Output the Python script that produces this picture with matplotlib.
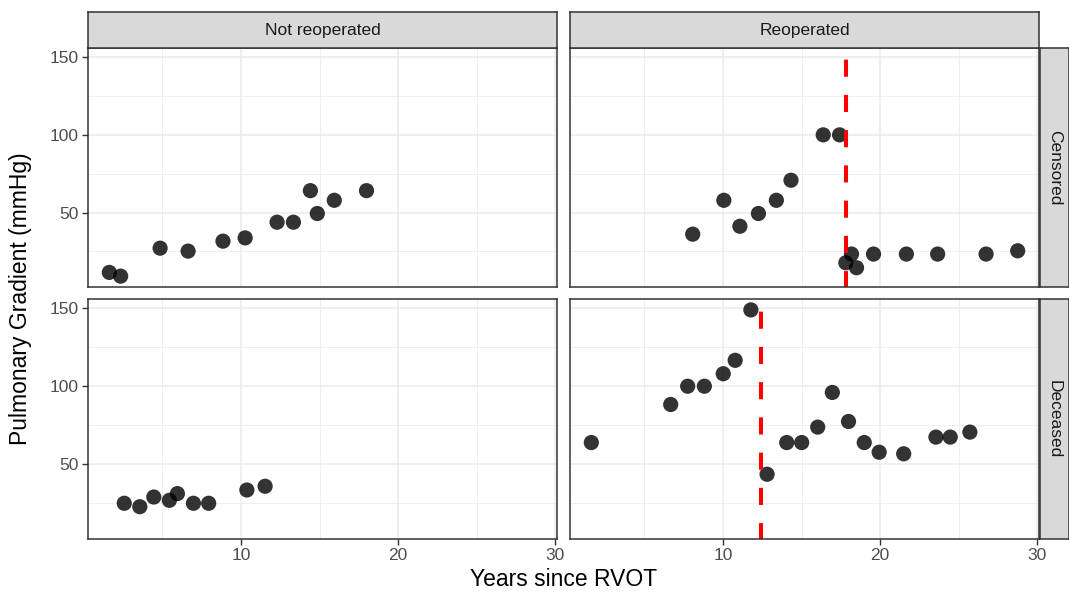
import matplotlib
matplotlib.use("Agg")
import matplotlib.pyplot as plt

plt.rcParams['font.family'] = ['Liberation Sans', 'DejaVu Sans']

W, H = 1069, 595
DPI = 100

col_labels = ["Not reoperated", "Reoperated"]
row_labels = ["Censored", "Deceased"]

# Not reoperated / Censored
nc_x = [1.63, 2.35, 4.86, 6.64, 8.86, 10.27, 12.30, 13.34, 14.42, 14.86, 15.94, 17.99]
nc_y = [11.5, 9.1, 27.1, 25.2, 31.6, 33.7, 43.8, 43.8, 64.1, 49.4, 57.9, 64.1]
# Reoperated / Censored
rc_x = [8.08, 10.06, 11.08, 12.26, 13.40, 14.33, 16.38, 17.42, 18.18, 17.82, 18.50,
        19.58, 21.67, 23.66, 26.74, 28.75]
rc_y = [36.1, 57.9, 41.2, 49.4, 57.9, 70.8, 100.0, 100.0, 23.3, 17.7, 14.5,
        23.3, 23.3, 23.3, 23.3, 25.4]
# Not reoperated / Deceased
nd_x = [2.58, 3.57, 4.46, 5.45, 5.96, 6.98, 7.95, 10.38, 11.54]
nd_y = [25.0, 22.8, 29.0, 26.9, 31.2, 25.0, 25.0, 33.5, 35.9]
# Reoperated / Deceased
rd_x = [1.63, 6.68, 7.76, 8.82, 10.02, 10.78, 11.78, 12.81, 14.06, 15.01, 16.03,
        16.96, 17.99, 18.99, 19.94, 21.50, 23.55, 24.46, 25.71]
rd_y = [63.9, 88.3, 100.0, 100.0, 108.0, 116.6, 148.9, 43.6, 63.9, 63.9, 73.8,
        96.0, 77.4, 63.9, 57.7, 56.7, 67.4, 67.4, 70.6]

# reoperation times (vertical dashed lines)
reop_censored = 17.82
reop_deceased = 12.45

x_major = [10, 20, 30]
x_minor = [5, 15, 25]
y_major = [50, 100, 150]
y_minor = [25, 75, 125]

data = {
    (0, 0): (nc_x, nc_y, None),
    (0, 1): (rc_x, rc_y, reop_censored),
    (1, 0): (nd_x, nd_y, None),
    (1, 1): (rd_x, rd_y, reop_deceased),
}

all_x = nc_x + rc_x + nd_x + rd_x
all_y = nc_y + rc_y + nd_y + rd_y
xr = max(all_x) - min(all_x)
yr = max(all_y) - min(all_y)
xlim = (min(all_x) - 0.05 * xr, max(all_x) + 0.05 * xr)
ylim = (min(all_y) - 0.05 * yr, max(all_y) + 0.05 * yr)

fig = plt.figure(figsize=(W / DPI, H / DPI), dpi=DPI)

def fx(px):
    return px / W

def fy(py):
    return 1 - py / H

col_x = [(88, 557), (570, 1039)]
row_y = [(48, 287), (299, 539)]
border = '#333333'
grid_c = '#EBEBEB'

for (r, c), (xs, ys, vl) in data.items():
    x0, x1 = col_x[c]
    y0, y1 = row_y[r]
    ax = fig.add_axes([fx(x0), fy(y1), fx(x1) - fx(x0), fy(y0) - fy(y1)])
    ax.set_xlim(xlim)
    ax.set_ylim(ylim)
    ax.set_facecolor('white')
    for v in x_minor:
        ax.axvline(v, color=grid_c, lw=0.55, zorder=0)
    for v in y_minor:
        ax.axhline(v, color=grid_c, lw=0.55, zorder=0)
    for v in x_major:
        ax.axvline(v, color=grid_c, lw=1.1, zorder=0)
    for v in y_major:
        ax.axhline(v, color=grid_c, lw=1.1, zorder=0)
    ax.scatter(xs, ys, s=120, color='black', alpha=0.8, edgecolors='none', zorder=3)
    if vl is not None:
        ax.axvline(vl, color='red', lw=2.9, linestyle=(0.3, (4.25, 4.5)), zorder=4)
    for sp in ax.spines.values():
        sp.set_color(border)
        sp.set_linewidth(1.1)
        sp.set_zorder(5)
    ax.set_xticks(x_major)
    ax.set_yticks(y_major)
    ax.tick_params(axis='both', colors=border, length=4.5, width=1.0,
                   labelsize=12.5, labelcolor='#4D4D4D', pad=2)
    if r == 0:
        ax.set_xticklabels([])
        ax.tick_params(axis='x', length=0)
    if c == 1:
        ax.set_yticklabels([])
        ax.tick_params(axis='y', length=0)
    # top strips
    if r == 0:
        sax = fig.add_axes([fx(x0), fy(48), fx(x1) - fx(x0), fy(12) - fy(48)])
        sax.set_xticks([]); sax.set_yticks([])
        sax.set_facecolor('#D9D9D9')
        for sp in sax.spines.values():
            sp.set_color(border); sp.set_linewidth(1.1)
        sax.text(0.5, 0.5, col_labels[c], ha='center', va='center',
                 fontsize=12.5, color='#1A1A1A', transform=sax.transAxes)
    if c == 1:
        sax = fig.add_axes([fx(1040), fy(y1), fx(1069) - fx(1040), fy(y0) - fy(y1)])
        sax.set_xticks([]); sax.set_yticks([])
        sax.set_facecolor('#D9D9D9')
        for sp in sax.spines.values():
            sp.set_color(border); sp.set_linewidth(1.1)
        sax.text(0.5, 0.5, row_labels[r], ha='center', va='center', rotation=-90,
                 fontsize=12.5, color='#1A1A1A', transform=sax.transAxes)

fig.text(fx(563.5), fy(580), "Years since RVOT", ha='center', va='center',
         fontsize=16.5, color='black')
fig.text(fx(21), fy(299), "Pulmonary Gradient (mmHg)", ha='center', va='center',
         rotation=90, fontsize=16.5, color='black')

fig.savefig("out.png", dpi=DPI)
